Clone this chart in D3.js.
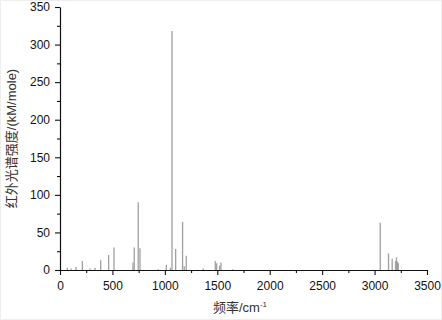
<!DOCTYPE html>
<html>
<head>
<meta charset="utf-8">
<script src="https://cdn.jsdelivr.net/npm/d3@7"></script>
<style>
  body { margin: 0; background: #fff; }
  text { font-family: "Liberation Sans", Arial, sans-serif; }
</style>
</head>
<body>
<div id="chart"></div>
<script>
// peak frequencies (cm-1) and IR intensities (kM/mole)
const freqs = [70, 105, 153, 213, 286, 334, 388, 464, 515, 696, 708, 746, 763,
               937, 1014, 1052, 1068, 1103, 1169, 1185, 1204, 1366, 1481, 1494, 1522, 1535, 1646,
               3054, 3133, 3168, 3200, 3209, 3219, 3226];
const intensities = [3, 2, 4, 12, 2, 3, 13, 20, 30, 10, 30, 90, 29,
                     1, 7, 3, 318, 28, 64, 5, 19, 2, 12, 9, 6, 10, 1,
                     63, 22, 15, 12, 17, 11, 9];
const xTicks = [0, 500, 1000, 1500, 2000, 2500, 3000, 3500];
const yTicks = [0, 50, 100, 150, 200, 250, 300, 350];

const margin = {top: 7, right: 15, bottom: 50, left: 60},
    W = 442, H = 320,
    width = W - margin.left - margin.right,
    height = H - margin.top - margin.bottom;

const svg = d3.select("#chart")
  .append("svg")
  .attr("width", W)
  .attr("height", H);

svg.append("rect")
  .attr("x", 0.5).attr("y", 0.5)
  .attr("width", W - 1).attr("height", H - 1)
  .attr("fill", "none").attr("stroke", "#eeeeee");

const g = svg.append("g")
  .attr("transform", "translate(" + margin.left + "," + margin.top + ")");

const x = d3.scaleLinear().domain([0, 3500]).range([0, width]);
const y = d3.scaleLinear().domain([0, 350]).range([height, 0]);

// bars (stick spectrum)
g.selectAll("line.peak")
  .data(freqs)
  .enter()
  .append("line")
  .attr("class", "peak")
  .attr("x1", d => x(d)).attr("x2", d => x(d))
  .attr("y1", y(0))
  .attr("y2", (d, i) => y(intensities[i]))
  .attr("stroke", "#a0a0a0")
  .attr("stroke-width", 1.3);

// minor ticks
g.append("g")
  .attr("transform", "translate(0," + height + ")")
  .call(d3.axisBottom(x).tickValues(d3.range(250, 3500, 500)).tickSize(3).tickFormat(""))
  .call(a => a.select(".domain").remove());
g.append("g")
  .call(d3.axisLeft(y).tickValues(d3.range(25, 350, 50)).tickSize(3).tickFormat(""))
  .call(a => a.select(".domain").remove());

// major axes
const xAxis = g.append("g")
  .attr("transform", "translate(0," + height + ")")
  .call(d3.axisBottom(x).tickValues(xTicks).tickFormat(d3.format("d"))
    .tickSize(5).tickSizeOuter(0).tickPadding(6));
const yAxis = g.append("g")
  .call(d3.axisLeft(y).tickValues(yTicks).tickFormat(d3.format("d"))
    .tickSize(5).tickSizeOuter(0).tickPadding(5));

[xAxis, yAxis].forEach(a => {
  a.selectAll("text").attr("font-size", 12).attr("fill", "#111")
    .attr("font-family", "'Liberation Sans', Arial, sans-serif");
  a.select(".domain").attr("stroke", "#111").attr("stroke-width", 1.2);
});
g.selectAll(".tick line").attr("stroke", "#111").attr("stroke-width", 1.1);

// axis titles
const xt = svg.append("text")
  .attr("x", 240).attr("y", 312)
  .attr("text-anchor", "middle")
  .attr("font-size", 13)
  .attr("fill", "#333");
xt.append("tspan").attr("font-family", "'Noto Sans CJK SC', sans-serif").text("频率");
xt.append("tspan").text("/cm");
xt.append("tspan").attr("dy", -5).attr("font-size", 8).text("-1");

const yt = svg.append("text")
  .attr("transform", "translate(16," + (margin.top + height / 2) + ") rotate(-90)")
  .attr("text-anchor", "middle")
  .attr("font-size", 13)
  .attr("fill", "#333");
yt.append("tspan").attr("font-family", "'Noto Sans CJK SC', sans-serif").text("红外光谱强度");
yt.append("tspan").text("/(kM/mole)");
</script>
</body>
</html>
